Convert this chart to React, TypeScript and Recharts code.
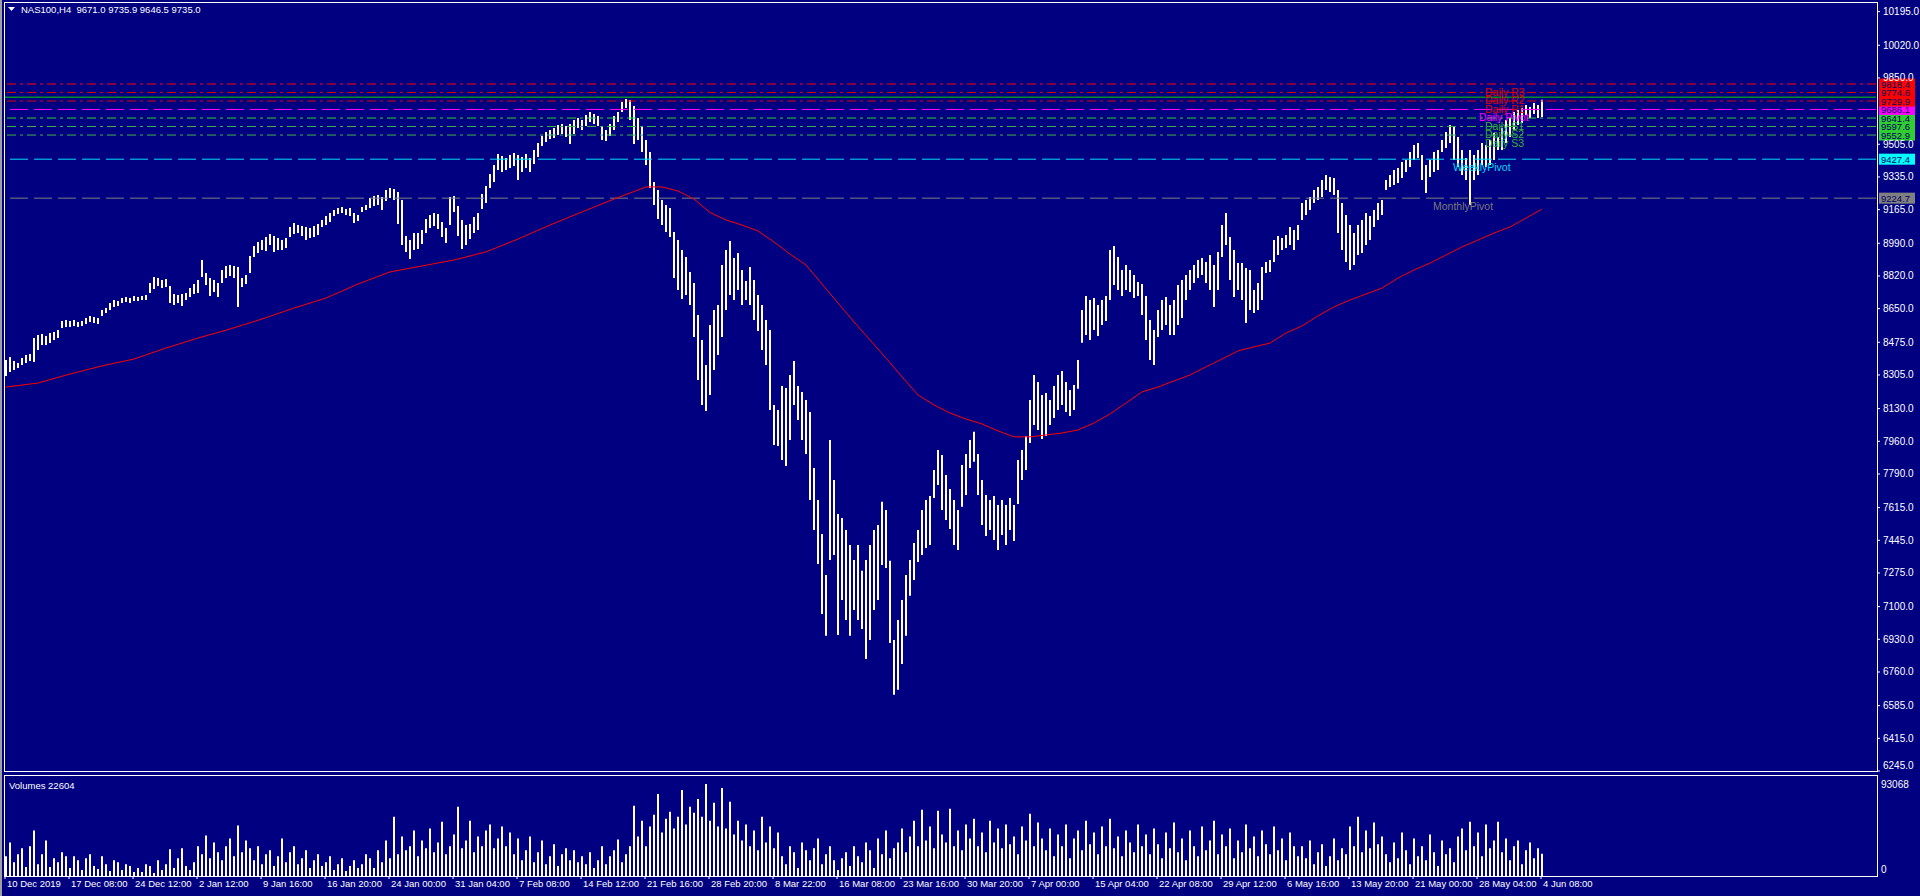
import React from 'react';
import { ComposedChart, Bar, Line, XAxis, YAxis, ReferenceLine } from 'recharts';

const FONT = '"Liberation Sans", Arial, sans-serif';
const BG = '#000080';
const SLOTS = 468; // 4px per slot, each slot holds two H4 bars

// high / low of each pair of H4 bars
const barHigh = [
  8383, 8399, 8378, 8367, 8393, 8409, 8414, 8497, 8513, 8518,
  8508, 8523, 8529, 8539, 8586, 8591, 8586, 8591, 8581, 8586,
  8601, 8612, 8607, 8601, 8643, 8653, 8679, 8695, 8690, 8705,
  8711, 8705, 8716, 8711, 8716, 8721, 8783, 8815, 8809, 8799,
  8804, 8768, 8726, 8721, 8726, 8731, 8757, 8778, 8799, 8903,
  8835, 8809, 8799, 8783, 8851, 8872, 8877, 8872, 8867, 8809,
  8825, 8924, 8976, 8997, 9007, 9023, 9038, 9028, 9017, 9007,
  9017, 9075, 9095, 9085, 9080, 9075, 9069, 9080, 9090, 9111,
  9132, 9147, 9163, 9173, 9179, 9168, 9173, 9147, 9137, 9179,
  9189, 9225, 9236, 9241, 9231, 9267, 9277, 9272, 9257, 9215,
  9028, 9007, 9043, 9043, 9059, 9116, 9137, 9147, 9142, 9101,
  9069, 9231, 9236, 9184, 9111, 9085, 9090, 9127, 9147, 9246,
  9288, 9350, 9397, 9454, 9444, 9433, 9449, 9459, 9449, 9439,
  9454, 9433, 9475, 9511, 9548, 9569, 9579, 9589, 9605, 9610,
  9600, 9610, 9631, 9641, 9631, 9657, 9673, 9662, 9652, 9600,
  9579, 9610, 9652, 9673, 9725, 9740, 9735, 9704, 9641, 9600,
  9527, 9465, 9309, 9267, 9215, 9189, 9173, 9049, 9007, 8955,
  8919, 8841, 8783, 8617, 8487, 8357, 8565, 8643, 8669, 8877,
  8955, 9002, 8913, 8939, 8851, 8794, 8867, 8799, 8721, 8669,
  8591, 8539, 8149, 8123, 8248, 8237, 8305, 8378, 8248, 8217,
  8175, 8113, 7821, 7655, 7478, 7265, 7967, 7759, 7582, 7561,
  7499, 7421, 7343, 7421, 7286, 7343, 7421, 7499, 7525, 7645,
  7603, 7338, 6927, 7031, 7135, 7265, 7343, 7431, 7499, 7603,
  7655, 7676, 7811, 7915, 7889, 7785, 7712, 7655, 7603, 7837,
  7894, 7967, 8009, 7894, 7759, 7681, 7655, 7676, 7629, 7655,
  7629, 7665, 7629, 7863, 7915, 7988, 8175, 8305, 8269, 8201,
  8211, 8175, 8248, 8305, 8326, 8269, 8227, 8253, 8383, 8643,
  8716, 8695, 8705, 8669, 8695, 8716, 8955, 8976, 8919, 8851,
  8877, 8851, 8825, 8789, 8778, 8716, 8591, 8539, 8643, 8695,
  8711, 8669, 8695, 8773, 8799, 8825, 8851, 8877, 8903, 8913,
  8893, 8929, 8877, 8945, 9085, 9147, 9023, 8955, 8887, 8887,
  8861, 8851, 8747, 8783, 8867, 8893, 8903, 9007, 9028, 9017,
  9033, 9075, 9059, 9085, 9199, 9215, 9231, 9267, 9283, 9319,
  9345, 9335, 9329, 9267, 9199, 9137, 9085, 9043, 9085, 9111,
  9147, 9132, 9163, 9199, 9215, 9319, 9345, 9371, 9381, 9413,
  9423, 9465, 9501, 9511, 9449, 9397, 9423, 9465, 9475, 9527,
  9569, 9605, 9595, 9543, 9475, 9433, 9475, 9449, 9475, 9511,
  9501, 9527, 9563, 9543, 9589, 9631, 9641, 9673, 9683, 9693,
  9709, 9699, 9720, 9709, 9736,
];

const barLow = [
  8300, 8320, 8331, 8341, 8357, 8367, 8378, 8373, 8435, 8461,
  8461, 8471, 8487, 8497, 8549, 8555, 8555, 8560, 8555, 8560,
  8570, 8581, 8575, 8570, 8612, 8627, 8643, 8659, 8664, 8679,
  8685, 8679, 8690, 8690, 8695, 8695, 8731, 8752, 8768, 8757,
  8763, 8679, 8669, 8679, 8664, 8695, 8711, 8726, 8731, 8815,
  8773, 8716, 8737, 8711, 8783, 8809, 8820, 8809, 8659, 8763,
  8778, 8835, 8919, 8939, 8955, 8950, 8981, 8945, 8955, 8955,
  8965, 9023, 9038, 9043, 9028, 9007, 9017, 9023, 9033, 9075,
  9085, 9101, 9132, 9142, 9147, 9137, 9132, 9095, 9106, 9153,
  9163, 9173, 9184, 9189, 9163, 9210, 9225, 9215, 9090, 8981,
  8945, 8908, 8955, 8960, 8986, 9043, 9069, 9080, 9064, 9023,
  8991, 9085, 9153, 9028, 8960, 8981, 9012, 9043, 9059, 9168,
  9199, 9277, 9309, 9371, 9361, 9371, 9381, 9392, 9319, 9361,
  9381, 9361, 9402, 9439, 9496, 9517, 9532, 9537, 9553, 9558,
  9543, 9506, 9558, 9589, 9579, 9600, 9621, 9610, 9600, 9527,
  9522, 9548, 9579, 9621, 9673, 9693, 9631, 9506, 9527, 9465,
  9397, 9277, 9189, 9116, 9085, 9049, 9023, 8809, 8747, 8700,
  8721, 8669, 8503, 8279, 8149, 8118, 8201, 8331, 8409, 8503,
  8643, 8721, 8695, 8747, 8669, 8695, 8669, 8591, 8534, 8435,
  8357, 8123, 7941, 7936, 7863, 7832, 7967, 8149, 8071, 7967,
  7894, 7655, 7499, 7322, 7062, 6948, 7343, 7369, 6953, 7135,
  7031, 6948, 7083, 7031, 6984, 6828, 6927, 7083, 7135, 7317,
  7301, 6911, 6641, 6667, 6802, 6948, 7156, 7239, 7332, 7369,
  7405, 7421, 7665, 7733, 7603, 7551, 7504, 7421, 7395, 7619,
  7681, 7821, 7853, 7681, 7525, 7468, 7499, 7447, 7395, 7473,
  7421, 7499, 7442, 7634, 7759, 7811, 7951, 8045, 8019, 7972,
  7988, 8045, 8081, 8123, 8149, 8113, 8092, 8123, 8233, 8472,
  8513, 8487, 8539, 8508, 8565, 8586, 8695, 8773, 8747, 8716,
  8747, 8737, 8705, 8716, 8617, 8487, 8383, 8357, 8503, 8539,
  8565, 8513, 8513, 8565, 8601, 8695, 8747, 8783, 8809, 8825,
  8783, 8747, 8659, 8747, 8919, 8981, 8799, 8711, 8747, 8695,
  8575, 8643, 8627, 8643, 8695, 8835, 8841, 8893, 8929, 8955,
  8965, 8981, 8955, 9007, 9111, 9137, 9163, 9199, 9215, 9231,
  9267, 9257, 9241, 9043, 8955, 8893, 8851, 8877, 8929, 8939,
  8981, 9007, 9075, 9111, 9137, 9267, 9283, 9293, 9303, 9329,
  9361, 9387, 9423, 9433, 9319, 9251, 9335, 9361, 9371, 9465,
  9485, 9511, 9423, 9387, 9345, 9319, 9189, 9319, 9345, 9397,
  9387, 9397, 9423, 9475, 9475, 9511, 9543, 9579, 9605, 9615,
  9657, 9641, 9662, 9641, 9647,
];

const barVolume = [
  20000, 34000, 14000, 22000, 28000, 9000, 30000, 46000, 12000, 22000,
  36000, 9000, 18000, 14000, 24000, 20000, 8000, 20000, 16000, 6000,
  18000, 22000, 10000, 7000, 20000, 12000, 5000, 16000, 14000, 6000,
  12000, 10000, 4000, 8000, 4000, 12000, 10000, 3000, 16000, 6000,
  12000, 27000, 8000, 18000, 28000, 10000, 6000, 14000, 30000, 22000,
  41000, 18000, 34000, 24000, 16000, 30000, 38000, 20000, 51000, 24000,
  36000, 28000, 16000, 30000, 12000, 22000, 26000, 10000, 20000, 38000,
  14000, 24000, 30000, 12000, 18000, 26000, 8000, 16000, 22000, 10000,
  14000, 20000, 6000, 12000, 18000, 5000, 10000, 16000, 8000, 12000,
  22000, 18000, 8000, 26000, 14000, 36000, 18000, 60000, 22000, 40000,
  26000, 30000, 46000, 20000, 36000, 28000, 48000, 24000, 34000, 55000,
  22000, 30000, 42000, 70000, 28000, 36000, 56000, 24000, 40000, 30000,
  46000, 52000, 28000, 38000, 50000, 30000, 44000, 22000, 38000, 16000,
  26000, 40000, 14000, 24000, 36000, 12000, 20000, 32000, 10000, 22000,
  28000, 16000, 26000, 14000, 20000, 12000, 24000, 8000, 16000, 30000,
  12000, 20000, 26000, 37000, 14000, 22000, 30000, 71000, 40000, 56000,
  30000, 50000, 62000, 83000, 44000, 58000, 65000, 48000, 60000, 87000,
  52000, 70000, 64000, 78000, 60000, 93000, 56000, 74000, 50000, 89000,
  48000, 75000, 42000, 56000, 36000, 52000, 30000, 46000, 26000, 60000,
  34000, 50000, 28000, 44000, 20000, 12000, 30000, 24000, 8000, 34000,
  26000, 16000, 28000, 38000, 12000, 22000, 30000, 16000, 6000, 18000,
  24000, 10000, 30000, 20000, 14000, 34000, 26000, 8000, 38000, 22000,
  46000, 18000, 28000, 34000, 48000, 24000, 40000, 56000, 30000, 67000,
  36000, 50000, 28000, 66000, 42000, 34000, 68000, 30000, 46000, 26000,
  52000, 38000, 58000, 30000, 44000, 24000, 56000, 34000, 48000, 28000,
  52000, 32000, 40000, 22000, 50000, 36000, 63000, 30000, 54000, 38000,
  26000, 48000, 20000, 42000, 30000, 52000, 18000, 38000, 46000, 26000,
  56000, 32000, 44000, 22000, 50000, 30000, 58000, 28000, 40000, 20000,
  46000, 34000, 24000, 52000, 30000, 42000, 22000, 48000, 32000, 18000,
  44000, 28000, 54000, 24000, 38000, 16000, 46000, 30000, 20000, 50000,
  26000, 36000, 56000, 22000, 42000, 30000, 48000, 18000, 36000, 24000,
  52000, 28000, 40000, 20000, 46000, 32000, 22000, 50000, 26000, 38000,
  16000, 44000, 30000, 20000, 30000, 18000, 36000, 12000, 24000, 32000,
  10000, 20000, 38000, 16000, 28000, 22000, 50000, 30000, 60000, 24000,
  46000, 28000, 54000, 32000, 40000, 22000, 14000, 34000, 18000, 44000,
  26000, 12000, 38000, 20000, 30000, 16000, 42000, 24000, 10000, 36000,
  22000, 28000, 14000, 40000, 48000, 26000, 55000, 30000, 44000, 20000,
  52000, 28000, 36000, 55000, 24000, 38000, 16000, 30000, 36000, 12000,
  26000, 34000, 18000, 28000, 22604,
];

// red moving average, read at these slots
const maBars = [
  0, 8, 16, 24, 32, 40, 48, 56, 64, 72, 80, 88, 96, 104, 112, 120, 128, 136, 144, 152, 160,
  164, 168, 172, 176, 180, 184, 188, 192, 196, 200, 204, 208, 212, 216, 220, 224, 228, 232,
  236, 240, 244, 248, 252, 256, 260, 264, 268, 272, 276, 280, 284, 288, 292, 296, 300, 304,
  308, 312, 316, 320, 324, 328, 332, 336, 340, 344, 348, 352, 356, 360, 364, 368, 372, 376,
  380, 384,
];
const maValues = [
  8242, 8263, 8310, 8352, 8388, 8445, 8497, 8544, 8596, 8653, 8705, 8778, 8841, 8872, 8903, 8945, 9012, 9085, 9153, 9220, 9283,
  9283, 9262, 9220, 9150, 9111, 9085, 9054, 8997, 8934, 8877, 8778, 8679, 8581, 8487, 8393, 8295, 8201, 8149,
  8107, 8076, 8050, 8014, 7983, 7983, 7993, 8003, 8019, 8055, 8102, 8159, 8217, 8242, 8274, 8305, 8347, 8388,
  8430, 8451, 8471, 8523, 8560, 8612, 8659, 8695, 8726, 8757, 8809, 8851, 8887, 8929, 8971, 9007, 9043, 9075,
  9121, 9168,
];

const timeLabels = [
  '10 Dec 2019', '17 Dec 08:00', '24 Dec 12:00', '2 Jan 12:00', '9 Jan 16:00', '16 Jan 20:00',
  '24 Jan 00:00', '31 Jan 04:00', '7 Feb 08:00', '14 Feb 12:00', '21 Feb 16:00', '28 Feb 20:00',
  '8 Mar 22:00', '16 Mar 08:00', '23 Mar 16:00', '30 Mar 20:00', '7 Apr 00:00', '15 Apr 04:00',
  '22 Apr 08:00', '29 Apr 12:00', '6 May 16:00', '13 May 20:00', '21 May 00:00', '28 May 04:00',
  '4 Jun 08:00',
];
const timeTickBars = timeLabels.map((_, k) => k * 16);

const priceTicks = [
  10195, 10020, 9850, 9505, 9335, 9165, 8990, 8820, 8650, 8475, 8305, 8130,
  7960, 7790, 7615, 7445, 7275, 7100, 6930, 6760, 6585, 6415, 6245,
];
const volumeTicks = [0, 93068];

const levelNames = ['Daily R3', 'Daily R2', 'Daily R1', 'Daily Pivot', 'Daily S1', 'Daily S2', 'Daily S3', 'WeeklyPivot', 'MonthlyPivot'];
const levelValues = [9818.4, 9774.6, 9729.9, 9686.1, 9641.4, 9597.6, 9552.9, 9427.4, 9224.7];
const levelLineColors = ['#ff0000', '#e00000', '#e00000', '#ff00ff', '#32cd32', '#3cb44a', '#3cb44a', '#00e0ff', '#808080'];
const levelTextColors = ['#e00000', '#e00000', '#e00000', '#ff00ff', '#32b432', '#32b432', '#32b432', '#00d8f0', '#7a7a7a'];
const levelBoxColors = ['#ff0000', '#ff0000', '#ff0000', '#ff00ff', '#32cd32', '#32cd32', '#32cd32', '#00ffff', '#808080'];
const levelDashes = ['9 4 3 4', '9 4 3 4', '9 4 3 4', '18 6', '9 4 3 4', '9 4 3 4', '9 4 3 4', '18 6', '18 6'];
const levelTextX = [1481, 1481, 1481, 1475, 1481, 1481, 1481, 1449, 1429];
const bidPrice = 9750;

const rows = Array.from({ length: SLOTS }, (_, i) => ({
  i,
  range: i < barHigh.length ? [barLow[i], barHigh[i]] : null,
  vol: i < barVolume.length ? barVolume[i] : null,
  ma: null as number | null,
}));
maBars.forEach((b, k) => {
  rows[b].ma = maValues[k];
});

function PriceTick({ x, y, payload }: any) {
  const ty = Math.min(y, 765);
  return (
    <g>
      <line x1={x + 1} x2={x + 4} y1={y} y2={y} stroke="#fff" />
      <text x={x + 7} y={ty + 3.5} fill="#fff" fontSize={10} fontFamily={FONT}>
        {Number(payload.value).toFixed(1)}
      </text>
    </g>
  );
}

function VolumeTick({ x, y, payload }: any) {
  const ty = payload.value === 0 ? y - 7 : y;
  return (
    <text x={x + 5} y={ty + 3.5} fill="#fff" fontSize={10} fontFamily={FONT}>
      {payload.value}
    </text>
  );
}

function TimeTick({ x, y, payload }: any) {
  const label = timeLabels[Math.round(payload.value / 16)];
  return (
    <g>
      <line x1={x - 1} x2={x - 1} y1={y} y2={y + 3} stroke="#fff" />
      <text x={x + 1} y={y + 11} fill="#fff" fontSize={9.5} fontFamily={FONT}>
        {label}
      </text>
    </g>
  );
}

function LevelLabel({ viewBox, k }: any) {
  const vb = viewBox || { x: 4, y: 0, width: 1872 };
  const { x, y, width } = vb;
  return (
    <g>
      <text x={x + levelTextX[k]} y={y + 11.5} fill={levelTextColors[k]} fontSize={10.5} fontFamily={FONT}>
        {levelNames[k]}
      </text>
      <rect x={x + width + 3} y={y - 5.5} width={36} height={11} fill={levelBoxColors[k]} />
      <text x={x + width + 5} y={y + 3.5} fill="#000060" fontSize={9.5} fontFamily={FONT}>
        {levelValues[k].toFixed(1)}
      </text>
    </g>
  );
}

const drawOrder = levelValues.map((_, k) => k).reverse();

export default function App() {
  return (
    <div
      style={{
        position: 'absolute',
        left: 0,
        top: 0,
        width: 1920,
        height: 896,
        background: BG,
        overflow: 'hidden',
        fontFamily: FONT,
      }}
    >
      <div style={{ position: 'absolute', left: 0, top: 0 }}>
        <ComposedChart width={1920} height={780} data={rows} margin={{ top: 2, right: 0, bottom: 9, left: 4 }}>
          <XAxis dataKey="i" hide />
          <YAxis
            orientation="right"
            width={44}
            domain={[6245, 10245]}
            allowDataOverflow
            ticks={priceTicks}
            interval={0}
            axisLine={false}
            tickLine={false}
            tickSize={0}
            tickMargin={0}
            tick={<PriceTick />}
          />
          <ReferenceLine y={bidPrice} stroke="#00d000" />
          {drawOrder.map((k) => (
            <ReferenceLine
              key={levelNames[k]}
              y={levelValues[k]}
              stroke={levelLineColors[k]}
              strokeDasharray={levelDashes[k]}
              label={<LevelLabel k={k} />}
            />
          ))}
          <Bar dataKey="range" barSize={2} fill="#ffffff" isAnimationActive={false} />
          <Line
            dataKey="ma"
            type="linear"
            stroke="#ff0000"
            strokeWidth={1}
            dot={false}
            activeDot={false}
            connectNulls
            isAnimationActive={false}
          />
        </ComposedChart>
      </div>

      <div style={{ position: 'absolute', left: 0, top: 772, width: 1920, height: 124, background: BG }} />
      <div style={{ position: 'absolute', left: 0, top: 775 }}>
        <ComposedChart width={1920} height={121} data={rows} margin={{ top: 9, right: 0, bottom: 0, left: 4 }}>
          <XAxis
            dataKey="i"
            ticks={timeTickBars}
            interval={0}
            height={20}
            axisLine={false}
            tickLine={false}
            tickSize={0}
            tickMargin={0}
            tick={<TimeTick />}
          />
          <YAxis
            orientation="right"
            width={44}
            domain={[0, 93068]}
            ticks={volumeTicks}
            interval={0}
            axisLine={false}
            tickLine={false}
            tickSize={0}
            tickMargin={0}
            tick={<VolumeTick />}
          />
          <Bar dataKey="vol" barSize={2} fill="#ffffff" isAnimationActive={false} />
        </ComposedChart>
      </div>

      {/* panel frames */}
      <div
        style={{
          position: 'absolute',
          left: 4,
          top: 2,
          width: 1874,
          height: 770,
          border: '1px solid #fff',
          boxSizing: 'border-box',
        }}
      />
      <div
        style={{
          position: 'absolute',
          left: 4,
          top: 775,
          width: 1874,
          height: 102,
          border: '1px solid #fff',
          boxSizing: 'border-box',
        }}
      />
      <div style={{ position: 'absolute', left: 0, top: 0, width: 2, height: 896, background: '#a0a0a0' }} />

      <svg style={{ position: 'absolute', left: 8, top: 7 }} width={8} height={6}>
        <polygon points="0,0 7,0 3.5,4" fill="#fff" />
      </svg>
      <div
        style={{
          position: 'absolute',
          left: 21,
          top: 4,
          fontSize: 9.5,
          lineHeight: '12px',
          color: '#fff',
          whiteSpace: 'pre',
        }}
      >
        {'NAS100,H4  9671.0 9735.9 9646.5 9735.0'}
      </div>
      <div
        style={{
          position: 'absolute',
          left: 9,
          top: 780,
          fontSize: 9.5,
          lineHeight: '12px',
          color: '#fff',
          whiteSpace: 'pre',
        }}
      >
        {'Volumes 22604'}
      </div>
    </div>
  );
}
